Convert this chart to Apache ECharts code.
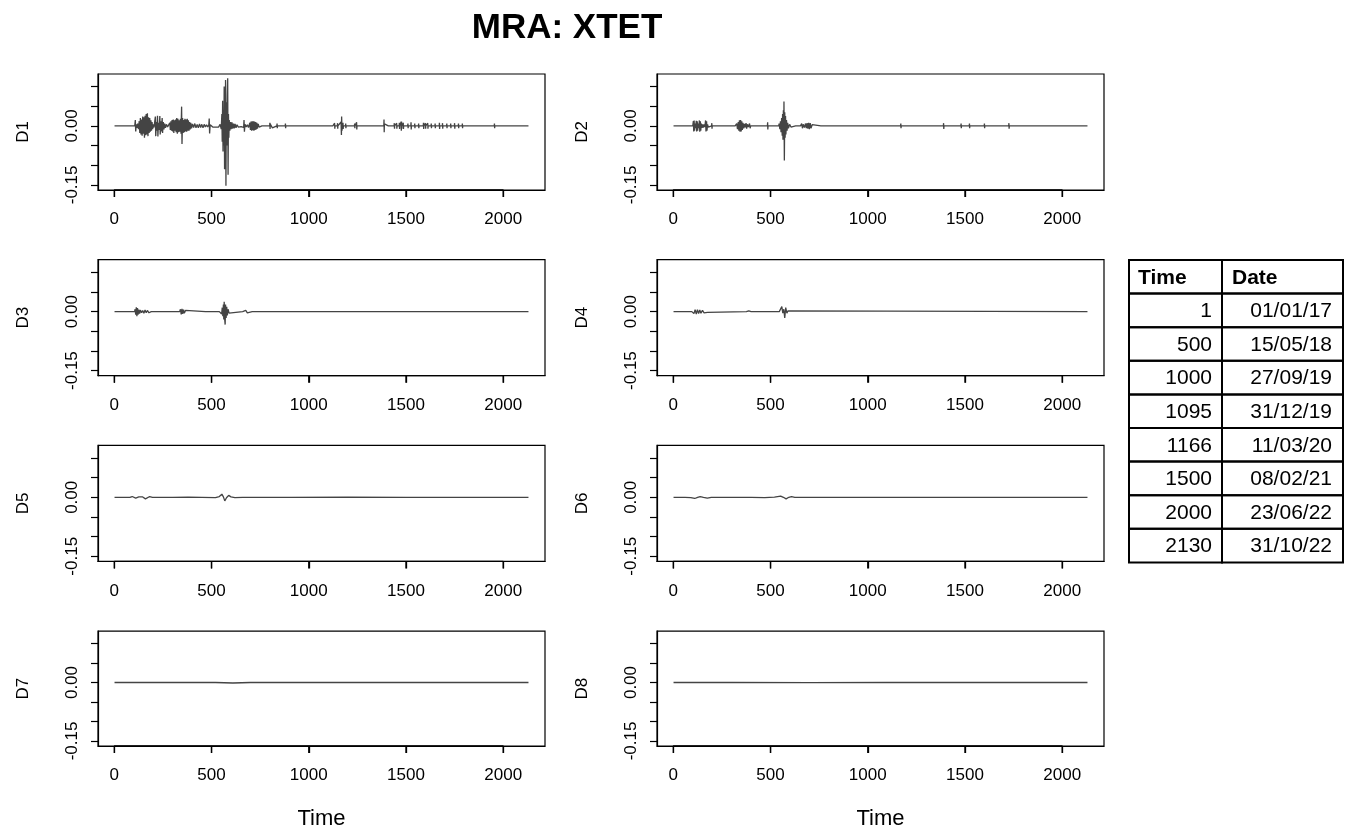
<!DOCTYPE html>
<html>
<head>
<meta charset="utf-8">
<title>MRA: XTET</title>
<script src="https://cdn.jsdelivr.net/npm/echarts@6/dist/echarts.min.js"></script>
<style>
  html, body { margin: 0; padding: 0; background: #fff; }
  #main { width: 1348px; height: 831px; }
</style>
</head>
<body>
<div id="main"></div>
<script>
// ---------------- data: [time, value] ----------------
const d1 = [[1,0],[105,0],
  [108,0.015],[110,-0.014],[113,0.004],[116,-0.005],[120,0.006],[124,-0.008],
  [128,0.012],[131,-0.018],[134,0.02],[137,-0.022],[140,0.016],[143,-0.025],[146,0.024],[149,-0.02],
  [152,0.022],[155,-0.03],[158,0.026],[161,-0.024],[164,0.03],[167,-0.022],[170,0.032],[173,-0.026],
  [176,0.022],[179,-0.018],[182,0.02],[185,-0.015],[188,0.014],[191,-0.012],[194,0.01],[197,-0.008],
  [200,0.004],[204,-0.004],
  [211,0.024],[213,-0.026],[216,0.01],[219,-0.012],[222,0.026],[224,-0.027],[227,0.008],[230,-0.01],
  [234,0.025],[236,-0.022],[239,0.012],[242,-0.014],[246,0.02],[248,-0.018],[252,0.01],[255,-0.009],
  [259,0.006],[263,-0.005],[268,0.004],[274,-0.003],[280,0.002],
  [285,0.008],[288,-0.01],[291,0.012],[294,-0.012],[297,0.015],[300,-0.014],[303,0.016],[306,-0.018],
  [309,0.014],[312,-0.012],[315,0.016],[318,-0.016],[321,0.02],[324,-0.02],[327,0.018],[330,-0.016],
  [333,0.014],[336,-0.015],[340,0.018],[343,-0.02],[346,0.049],[348,-0.046],[351,0.02],[354,-0.018],
  [357,0.015],[360,-0.016],[363,0.018],[366,-0.014],[369,0.016],[372,-0.015],[375,0.018],[378,-0.012],
  [381,0.014],[384,-0.012],[387,0.01],[390,-0.009],[393,0.008],[397,-0.006],
  [402,0.005],[408,-0.004],[414,0.006],[420,-0.005],[426,0.004],[432,-0.005],[438,0.005],[444,-0.004],
  [450,0.004],[456,-0.005],[462,0.004],[468,-0.003],[474,0.003],[480,-0.003],
  [486,0.003],[488,0.019],[490,-0.019],[493,0.003],
  [500,0.003],[506,-0.003],[512,0.002],[520,-0.003],[528,0.002],[536,-0.003],[544,0.004],[550,-0.008],
  [553,0.03],[555,-0.04],[557,0.064],[559,-0.065],[561,0.04],[563,-0.05],[565,0.1],[567,-0.11],
  [569,0.05],[571,-0.06],[572,0.117],[574,-0.152],[576,0.06],[578,-0.05],[581,0.08],[583,0.121],
  [585,-0.124],[587,0.03],[589,-0.03],[591,0.015],[594,-0.012],
  [598,0.01],[601,-0.008],[605,0.009],[609,-0.007],[613,0.006],[617,-0.006],[621,0.005],[626,-0.005],
  [631,0.003],[638,-0.003],[645,0.002],[652,-0.002],
  [660,0.003],[665,-0.004],[667,0.015],[669,-0.015],[672,0.004],[678,-0.003],[684,0.003],[690,-0.004],
  [697,0.008],[700,-0.01],[703,0.011],[706,-0.012],[709,0.012],[712,-0.011],[715,0.012],[718,-0.012],
  [721,0.011],[724,-0.01],[727,0.01],[730,-0.009],[733,0.008],[736,-0.007],[740,0.005],[745,-0.003],
  [748,0],
  [759,0],[760,0.005],[761,-0.005],[762,0],[784,0],[785,0.005],[786,-0.005],[787,0],
  [799,0],[800,0.008],[801,-0.008],[802,0.005],[803,0],[811,0],[812,0.005],[813,-0.005],[814,0],
  [836,0],[837,0.006],[838,-0.006],[839,0],[854,0],[855,0.005],[856,-0.005],[857,0],
  [879,0],[880,0.006],[881,-0.006],[882,0],[904,0],[905,0.005],[906,-0.005],[907,0],
  [929,0],[930,0.005],[931,-0.005],[932,0],[957,0],[958,0.005],[959,-0.005],[960,0],
  [984,0],[985,0.004],[986,-0.004],[987,0],[1019,0],[1020,0.004],[1021,-0.004],[1022,0],
  [1059,0],[1060,0.004],[1061,-0.004],[1062,0],[1099,0],[1100,0.004],[1101,-0.004],[1102,0],
  [1124,0],[1125,0.005],[1126,-0.005],[1127,0],[1132,0],[1133,0.007],[1134,-0.007],[1135,0],
  [1147,0],[1148,0.007],[1149,-0.007],[1150,0],[1157,0],[1158,0.005],[1159,-0.005],[1160,0],
  [1166,0.01],[1168,-0.023],[1169,0.024],[1171,-0.012],[1173,0.006],[1174,0],
  [1175,0],[1176,0.008],[1177,-0.008],[1178,0],[1189,0],[1190,0.006],[1191,-0.006],[1192,0],
  [1209,0],[1210,0.005],[1211,-0.005],[1212,0],[1235,0],[1236,0.006],[1237,-0.006],[1238,0],
  [1245,0],[1246,0.009],[1247,-0.009],[1248,0],[1264,0],[1265,0.005],[1266,-0.005],[1267,0],
  [1289,0],[1290,0.005],[1291,-0.005],[1292,0],[1319,0],[1320,0.005],[1321,-0.005],[1322,0],
  [1344,0],[1345,0.005],[1346,-0.005],[1347,0],[1369,0],[1370,0.005],[1371,-0.005],[1372,0],
  [1386,0],[1387,0.016],[1388,-0.016],[1389,0.005],[1390,0],[1409,0],[1410,0.005],[1411,-0.005],[1412,0],
  [1439,0],[1440,0.007],[1441,-0.007],[1442,0],[1451,0],[1452,0.007],[1453,-0.007],[1454,0],
  [1465,0],[1466,0.008],[1467,-0.008],[1468,0],[1474,0],[1475,0.011],[1476,-0.012],[1477,0.011],[1478,-0.007],[1479,0],
  [1485,0],[1486,0.008],[1487,-0.008],[1488,0],[1509,0],[1510,0.006],[1511,-0.006],[1512,0],
  [1525,0],[1526,0.009],[1527,-0.009],[1528,0],[1544,0],[1545,0.006],[1546,-0.006],[1547,0],
  [1564,0],[1565,0.006],[1566,-0.006],[1567,0],[1589,0],[1590,0.008],[1591,-0.008],[1592,0],
  [1599,0],[1600,0.007],[1601,-0.007],[1602,0],[1611,0],[1612,0.007],[1613,-0.007],[1614,0],
  [1629,0],[1630,0.006],[1631,-0.006],[1632,0],[1649,0],[1650,0.006],[1651,-0.006],[1652,0],
  [1671,0],[1672,0.008],[1673,-0.008],[1674,0],[1687,0],[1688,0.007],[1689,-0.007],[1690,0],
  [1709,0],[1710,0.006],[1711,-0.006],[1712,0],[1729,0],[1730,0.006],[1731,-0.006],[1732,0],
  [1749,0],[1750,0.007],[1751,-0.007],[1752,0],[1769,0],[1770,0.006],[1771,-0.006],[1772,0],
  [1789,0],[1790,0.006],[1791,-0.006],[1792,0],[1819,0],[1820,0.005],[1821,-0.005],[1822,0],
  [1849,0],[1850,0.005],[1851,-0.005],[1852,0],[1879,0],[1880,0.004],[1881,-0.004],[1882,0],
  [1909,0],[1910,0.004],[1911,-0.004],[1912,0],[1954,0],[1955,0.006],[1956,-0.006],[1957,0],
  [1974,0],[1975,0.005],[1976,-0.005],[1977,0],[1999,0],[2000,0.005],[2001,-0.005],[2002,0],
  [2019,0],[2020,0.005],[2021,-0.005],[2022,0],[2049,0],[2050,0.004],[2051,-0.004],[2052,0],
  [2079,0],[2080,0.004],[2081,-0.004],[2082,0],[2109,0],[2110,0.004],[2111,-0.004],[2112,0],[2130,0]];

const d2 = [[1,0],[100,0],[103,0.012],[105,-0.014],[107,0.014],[109,-0.012],[112,0.006],[115,-0.006],
  [118,0.013],[120,-0.014],[123,0.012],[125,-0.012],[128,0.006],[131,-0.006],[134,0.014],[136,-0.015],
  [139,0.012],[141,-0.012],[144,0.006],[147,-0.005],[150,0.004],[154,-0.004],[158,0.004],[162,-0.003],
  [166,0.014],[168,-0.014],[171,0.012],[173,-0.012],[176,0.004],[180,-0.003],[183,0],
  [197,0],[198,0.007],[199,-0.007],[200,0],[219,0],[220,0.005],[221,-0.005],[222,0],
  [243,0],[244,0.005],[245,-0.005],[246,0],[271,0],[272,0.004],[273,-0.004],[274,0],
  [299,0],[300,0.004],[301,-0.004],[302,0],[318,0],[320,-0.004],
  [326,0.006],[330,-0.008],[334,0.01],[337,-0.012],[340,0.014],[343,-0.015],[346,0.015],[349,-0.014],
  [352,0.012],[355,-0.01],[358,0.008],[362,-0.006],[366,0.005],[370,-0.004],[374,0.007],[377,-0.007],
  [381,0.004],[386,-0.003],[392,0.006],[395,-0.006],[398,0],
  [423,0],[424,0.004],[425,-0.004],[426,0],[447,0],[448,0.005],[449,-0.005],[450,0],
  [484,0],[485,0.009],[486,-0.009],[487,0],[507,0],[508,0.004],[509,-0.004],[510,0],
  [527,0],[528,0.005],[529,-0.005],[530,0],[542,0],[544,0.006],
  [548,-0.008],[551,0.012],[554,-0.016],[557,0.02],[560,-0.025],[562,0.03],[564,-0.035],[566,0.04],
  [568,-0.03],[569,0.062],[571,-0.088],[573,0.035],[575,-0.03],[577,0.025],[579,-0.022],[582,0.015],
  [585,-0.012],[588,0.008],[592,-0.006],[598,0.004],[605,-0.003],[608,0],
  [629,0],[630,0.004],[631,-0.004],[632,0],[654,0],[656,-0.005],[660,0.006],[664,-0.006],[668,0.004],
  [674,-0.004],[680,0.006],[684,-0.006],[688,0.007],[692,-0.007],[696,0.008],[700,-0.008],[704,0.007],
  [708,-0.006],[714,0.003],[717,0],
  [759,0],[760,0.004],[761,-0.004],[762,0],[799,0],[800,0.004],[801,-0.004],[802,0],
  [829,0],[830,0.005],[831,-0.005],[832,0],[869,0],[870,0.004],[871,-0.004],[872,0],
  [909,0],[910,0.004],[911,-0.004],[912,0],[949,0],[950,0.004],[951,-0.004],[952,0],
  [1009,0],[1010,0.004],[1011,-0.004],[1012,0],[1069,0],[1070,0.004],[1071,-0.004],[1072,0],
  [1129,0],[1130,0.004],[1131,-0.004],[1132,0],[1169,0],[1170,0.006],[1171,-0.006],[1172,0],
  [1179,0],[1180,0.005],[1181,-0.005],[1182,0],[1249,0],[1250,0.005],[1251,-0.005],[1252,0],
  [1299,0],[1300,0.004],[1301,-0.004],[1302,0],[1359,0],[1360,0.004],[1361,-0.004],[1362,0],
  [1389,0],[1390,0.007],[1391,-0.008],[1392,0],[1439,0],[1440,0.005],[1441,-0.005],[1442,0],
  [1479,0],[1480,0.006],[1481,-0.006],[1482,0],[1522,0],[1523,0.006],[1524,-0.006],[1525,0],
  [1579,0],[1580,0.004],[1581,-0.004],[1582,0],[1599,0],[1600,0.006],[1601,-0.006],[1602,0],
  [1669,0],[1670,0.004],[1671,-0.004],[1672,0],[1725,0],[1726,0.007],[1727,-0.007],[1728,0],
  [1779,0],[1780,0.004],[1781,-0.004],[1782,0],[1839,0],[1840,0.004],[1841,-0.004],[1842,0],
  [1899,0],[1900,0.004],[1901,-0.004],[1902,0],[1959,0],[1960,0.004],[1961,-0.004],[1962,0],
  [2021,0],[2022,0.005],[2023,-0.005],[2024,0],[2079,0],[2080,0.004],[2081,-0.004],[2082,0],[2130,0]];

const d3 = [[1,0],[104,0],[107,0.006],[110,-0.008],[113,0.011],[116,-0.012],[119,0.009],[122,-0.008],
  [126,0.005],[130,-0.005],[134,0.004],[140,-0.003],[146,0.003],[152,-0.004],[158,0.004],[164,-0.003],
  [170,0.003],[178,-0.003],[186,0.002],[190,0],
  [209,0],[210,0.003],[211,-0.003],[212,0],[239,0],[240,0.002],[241,-0.002],[242,0],
  [336,0],[338,-0.003],[340,0.006],[344,-0.007],[348,0.007],[352,-0.006],[356,0.005],[360,-0.004],
  [366,0.003],[370,0],
  [469,0],[470,0.003],[471,-0.003],[472,0],[540,0],[544,-0.002],[548,0.004],[552,-0.006],[555,0.01],
  [558,-0.012],[561,0.018],[563,-0.02],[565,0.025],[568,-0.022],[570,-0.033],[572,0.018],[575,-0.016],
  [578,0.012],[581,-0.01],[585,0.006],[590,-0.004],[594,0],
  [660,0],[662,0.003],[668,-0.003],[676,0.003],[684,-0.003],[690,0],
  [709,0],[710,0.003],[711,-0.003],[712,0],[769,0],[770,0.002],[771,-0.002],[772,0],
  [1379,0],[1380,0.002],[1381,-0.002],[1382,0],[1479,0],[1480,0.002],[1481,-0.002],[1482,0],
  [1599,0],[1600,0.002],[1601,-0.002],[1602,0],[2130,0]];

const d4 = [[1,0],[95,0],[100,0.003],[106,-0.005],[112,0.005],[118,-0.006],[124,0.005],[130,-0.005],
  [136,0.004],[142,-0.004],[150,0.003],[158,-0.003],[166,0.002],[176,-0.002],[186,0],
  [376,0],[382,-0.002],[388,0.002],[394,-0.002],[400,0],
  [545,0],[550,-0.003],[554,0.004],[558,0.013],[563,-0.004],[568,0.006],[573,-0.016],[578,0.01],
  [584,-0.004],[590,0.002],[596,0],[2130,0]];

const d5 = [[1,0],[80,0],[92,0.002],[100,0.003],[110,-0.002],[118,-0.006],[126,0.001],[136,0.005],
  [146,0.001],[160,-0.004],[170,-0.001],[182,0.002],[196,0],[300,0],[380,0.0007],[450,0],[520,-0.0007],
  [540,0.002],[553,0.008],[561,0.001],[568,-0.009],[577,-0.001],[588,0.005],[600,0.001],[620,-0.001],
  [660,0],[900,0],[1200,0.0005],[1500,0],[2130,0]];

const d6 = [[1,0],[60,0],[90,-0.001],[110,-0.003],[125,0],[138,0.002],[155,0],[175,-0.002],[195,0],
  [400,0],[470,-0.0007],[520,0.0007],[552,0.003],[566,0],[580,-0.004],[594,0],[608,0.002],[625,0],
  [700,0],[2130,0]];

const d7 = [[1,0],[150,0.0006],[300,0],[520,0],[610,-0.0012],[700,0],[2130,0]];

const d8 = [[1,0],[300,0.0004],[700,-0.0004],[1100,0],[2130,0]];

const panelNames = ['D1', 'D2', 'D3', 'D4', 'D5', 'D6', 'D7', 'D8'];
const panelData = [d1, d2, d3, d4, d5, d6, d7, d8];
const xTicks = [0, 500, 1000, 1500, 2000];
const yTicks = [-0.15, -0.10, -0.05, 0, 0.05, 0.10];
const yLabels = [-0.15, 0];

const tableTimes = [1, 500, 1000, 1095, 1166, 1500, 2000, 2130];
const tableDates = ['01/01/17', '15/05/18', '27/09/19', '31/12/19', '11/03/20', '08/02/21', '23/06/22', '31/10/22'];

// ---------------- layout ----------------
const FONT = 'Liberation Sans, Arial, Helvetica, sans-serif';
const colLeft = [98, 657];
const rowTop = [74, 259.7, 445.4, 631.1];
const boxW = 447;
const boxH = 116;
const xMin = -84, xMax = 2215;
const yMin = -0.163, yMax = 0.132;
// tick length of 7px expressed in y units of a panel
const tickDrop = 7 / boxH * (yMax - yMin);

const grids = [], xAxes = [], yAxes = [], series = [];
panelNames.forEach((name, i) => {
  const col = i % 2;
  const row = Math.floor(i / 2);
  grids.push({
    left: colLeft[col], top: rowTop[row], width: boxW, height: boxH,
    show: true, borderColor: '#000', borderWidth: 1.2, backgroundColor: 'transparent'
  });
  xAxes.push({
    type: 'value', gridIndex: i, min: xMin, max: xMax, position: 'bottom',
    axisLine: { show: true, onZero: false, lineStyle: { color: '#000', width: 1.2 } },
    axisTick: { show: true, inside: false, customValues: xTicks, length: 7, lineStyle: { color: '#000', width: 1.3 } },
    axisLabel: { customValues: xTicks, margin: 21, fontSize: 17, color: '#000', fontFamily: FONT,
      formatter: v => String(v) },
    splitLine: { show: false },
    name: row === 3 ? 'Time' : '',
    nameLocation: 'middle', nameGap: 62,
    nameTextStyle: { fontSize: 22, color: '#000', fontFamily: FONT }
  });
  yAxes.push({
    type: 'value', gridIndex: i, min: yMin, max: yMax, position: 'left',
    axisLine: { show: true, onZero: false, lineStyle: { color: '#000', width: 1.2 } },
    axisTick: { show: true, inside: false, customValues: yTicks, length: 7, lineStyle: { color: '#000', width: 1.2 } },
    axisLabel: {
      customValues: yLabels, rotate: 90, margin: 17, fontSize: 17, color: '#000', fontFamily: FONT,
      formatter: v => v.toFixed(2)
    },
    splitLine: { show: false },
    name: name, nameLocation: 'middle', nameGap: 66, nameRotate: 90,
    nameTextStyle: { fontSize: 17, color: '#000', fontFamily: FONT }
  });
  series.push({
    type: 'line', xAxisIndex: i, yAxisIndex: i, data: panelData[i],
    showSymbol: false, symbol: 'none', sampling: false,
    lineStyle: { color: '#444', width: 1.3 }
  });
  // x tick marks below the box: a path running along the bottom edge and dipping at each tick
  const tickPath = [];
  xTicks.forEach(v => {
    tickPath.push([v, yMin], [v, yMin - tickDrop], [v, yMin]);
  });
  series.push({
    type: 'line', xAxisIndex: i, yAxisIndex: i, data: tickPath, clip: false, silent: true, z: 5,
    showSymbol: false, symbol: 'none', sampling: false,
    lineStyle: { color: '#000', width: 1.3 }
  });
});

// title and the table on the right, drawn as graphic elements
const tx0 = 1129, tx1 = 1222, tx2 = 1343, ty0 = 260, rowH = 33.6;
const graphic = [{
  type: 'text',
  style: { text: 'MRA: XTET', x: 567, y: 28, align: 'center', verticalAlign: 'middle',
    font: 'bold 35px ' + FONT, fill: '#000' }
}];
const headRow = ['Time', 'Date'];
for (let r = 0; r <= tableTimes.length; r++) {
  const y = ty0 + r * rowH;
  graphic.push({ type: 'rect', shape: { x: tx0, y: y, width: tx1 - tx0, height: rowH },
    style: { fill: 'none', stroke: '#000', lineWidth: 2 } });
  graphic.push({ type: 'rect', shape: { x: tx1, y: y, width: tx2 - tx1, height: rowH },
    style: { fill: 'none', stroke: '#000', lineWidth: 2 } });
  if (r === 0) {
    graphic.push({ type: 'text', style: { text: headRow[0], x: tx0 + 9, y: y + rowH / 2 + 1,
      align: 'left', verticalAlign: 'middle', font: 'bold 21px ' + FONT, fill: '#000' } });
    graphic.push({ type: 'text', style: { text: headRow[1], x: tx1 + 10, y: y + rowH / 2 + 1,
      align: 'left', verticalAlign: 'middle', font: 'bold 21px ' + FONT, fill: '#000' } });
  } else {
    graphic.push({ type: 'text', style: { text: String(tableTimes[r - 1]), x: tx1 - 10, y: y + rowH / 2 + 1,
      align: 'right', verticalAlign: 'middle', font: '21px ' + FONT, fill: '#000' } });
    graphic.push({ type: 'text', style: { text: tableDates[r - 1], x: tx2 - 11, y: y + rowH / 2 + 1,
      align: 'right', verticalAlign: 'middle', font: '21px ' + FONT, fill: '#000' } });
  }
}

const chart = echarts.init(document.getElementById('main'));
chart.setOption({
  animation: false,
  backgroundColor: '#fff',
  grid: grids,
  xAxis: xAxes,
  yAxis: yAxes,
  series: series,
  graphic: graphic
});
</script>
</body>
</html>
